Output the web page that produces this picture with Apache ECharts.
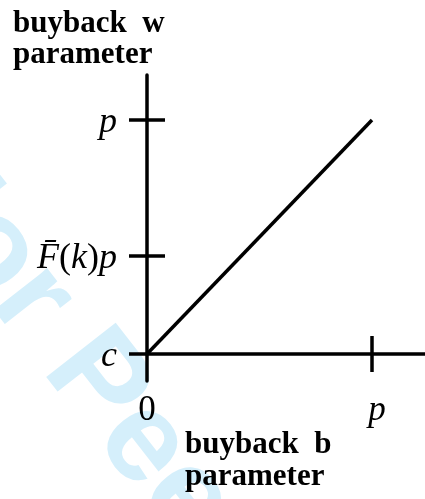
<!DOCTYPE html>
<html lang="en">
<head>
    <meta charset="UTF-8">
    <script src="https://cdn.jsdelivr.net/npm/echarts@6/dist/echarts.min.js"></script>
    <title>Buyback parameters</title>
</head>
<body style="margin:0;background:#fff;">
    <div id="buyback" style="width: 425px;height:499px;"></div>
</body>
<script type="text/javascript">
    // b on the x axis, w on the y axis (p = 1, c = 0 on the w scale)
    var bValues = [0, 1];
    var wValues = [0, 1];
    var wTickValues = [0, 0.42, 1];
    var wTickLabels = ['{i|c}', '{i|F\u0304}{r|(}{i|k}{r|)}{i|p}', '{i|p}'];
    var bTickValues = [0, 1];
    var bTickLabels = ['{r|0}', '{i|p}'];

    var mathFont = '"Liberation Serif", "DejaVu Serif", serif';
    var lineData = bValues.map(function (b, i) { return [b, wValues[i]]; });

    function labelOf(values, labels) {
        return function (v) {
            for (var i = 0; i < values.length; i++) {
                if (Math.abs(values[i] - v) < 1e-6) return labels[i];
            }
            return '';
        };
    }

    var mathRich = {
        i: {fontFamily: mathFont, fontStyle: 'italic', fontSize: 36, color: '#000'},
        r: {fontFamily: mathFont, fontSize: 36, color: '#000'}
    };
    var tickStyle = {color: '#000', width: 3.5};
    var yMin = -0.115, yMax = 1.192;
    var xMax = 1.2356;

    var chart = echarts.init(document.getElementById('buyback'));
    chart.setOption({
        animation: false,
        grid: {left: 147, right: 0, top: 75, bottom: 118},
        graphic: [
            {
                // faint review watermark
                type: 'text',
                x: -80, y: 158,
                rotation: -0.908,
                z: -10,
                silent: true,
                style: {
                    text: 'For Peer Review',
                    fill: '#d5effb',
                    font: 'bold 128px "Liberation Sans", Arial, sans-serif',
                    textAlign: 'left',
                    textVerticalAlign: 'middle'
                }
            },
            {
                type: 'text', left: 13, top: 8, z: 10,
                style: {
                    text: 'buyback  w\nparameter',
                    fill: '#000',
                    font: 'bold 31px "Liberation Serif", serif',
                    lineHeight: 31
                }
            },
            {
                type: 'text', left: 185, top: 429, z: 10,
                style: {
                    text: 'buyback  b\nparameter',
                    fill: '#000',
                    font: 'bold 31px "Liberation Serif", serif',
                    lineHeight: 32
                }
            }
        ],
        xAxis: [
            {
                type: 'value', min: 0, max: xMax,
                axisLine: {onZero: true, lineStyle: {color: '#000', width: 3.5}},
                axisTick: {show: true, inside: false, length: 18, customValues: [1], lineStyle: tickStyle},
                axisLabel: {
                    customValues: bTickValues, margin: 12,
                    formatter: labelOf(bTickValues, bTickLabels),
                    rich: {
                        i: {fontFamily: mathFont, fontStyle: 'italic', fontSize: 35, color: '#000', padding: [0, 0, 0, 10]},
                        r: {fontFamily: mathFont, fontSize: 35, color: '#000'}
                    }
                },
                splitLine: {show: false}
            },
            {
                type: 'value', min: 0, max: xMax, position: 'bottom',
                axisLine: {show: false, onZero: true},
                axisTick: {show: true, inside: true, length: 18, customValues: [1], lineStyle: tickStyle},
                axisLabel: {show: false},
                splitLine: {show: false}
            }
        ],
        yAxis: [
            {
                type: 'value', min: yMin, max: yMax, position: 'left',
                axisLine: {show: true, onZero: false, lineStyle: {color: '#000', width: 3.5}},
                axisTick: {show: true, inside: false, length: 18, customValues: wTickValues, lineStyle: tickStyle},
                axisLabel: {
                    customValues: wTickValues, margin: 30,
                    formatter: labelOf(wTickValues, wTickLabels),
                    padding: [5, 0, 0, 0],
                    rich: mathRich
                },
                splitLine: {show: false}
            },
            {
                type: 'value', min: yMin, max: yMax, position: 'left',
                axisLine: {show: false, onZero: false},
                axisTick: {show: true, inside: true, length: 18, customValues: [0.42, 1], lineStyle: tickStyle},
                axisLabel: {show: false},
                splitLine: {show: false}
            }
        ],
        series: [{
            type: 'line',
            data: lineData,
            symbol: 'none',
            lineStyle: {color: '#000', width: 3.5}
        }]
    });
</script>
</html>
